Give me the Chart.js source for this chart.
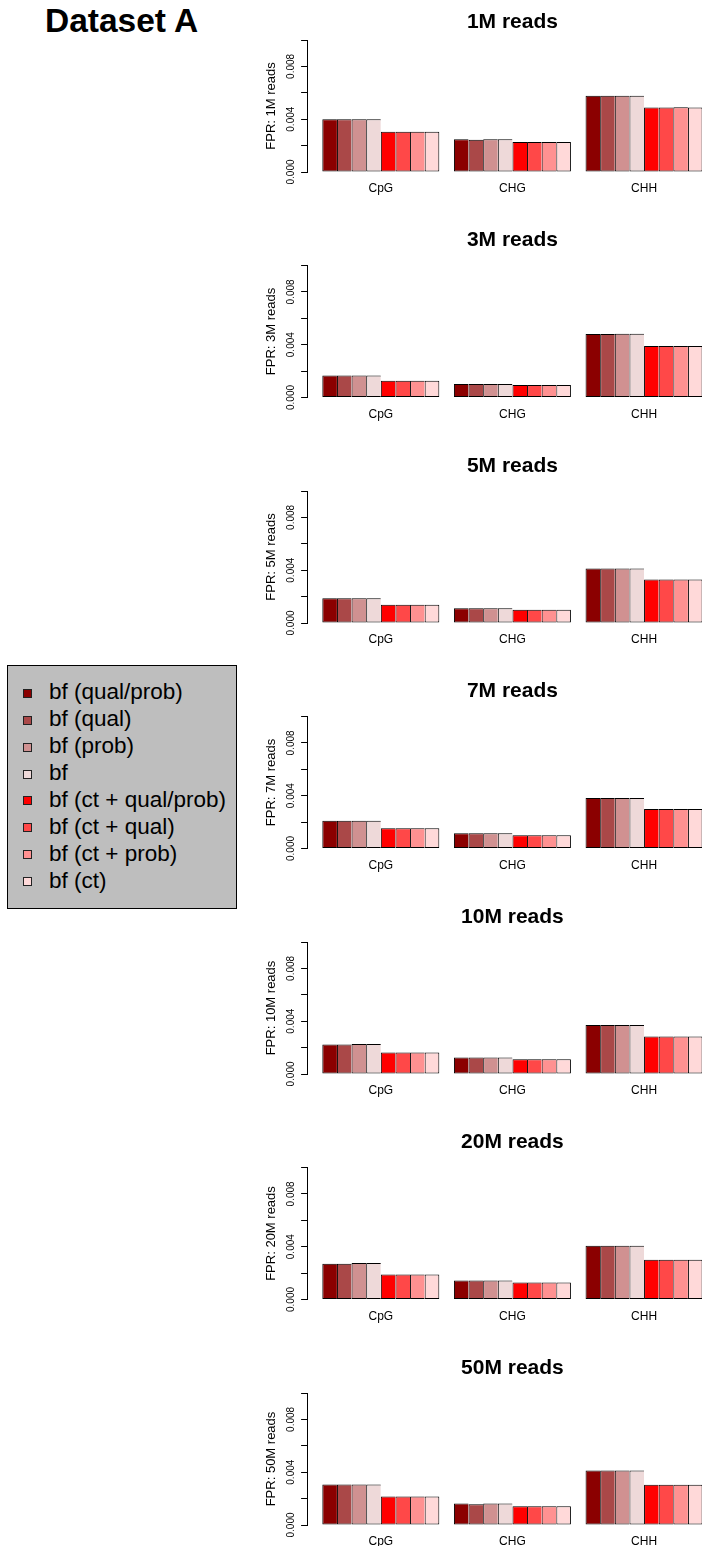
<!DOCTYPE html>
<html>
<head>
<meta charset="utf-8">
<title>Dataset A - FPR by read depth</title>
<script src="https://cdn.jsdelivr.net/npm/chart.js@4.4.1/dist/chart.umd.min.js"></script>
<style>
  html, body { margin: 0; padding: 0; background: #fff; overflow: hidden; }
  body { position: relative; width: 702px; height: 1546px; font-family: "Liberation Sans", Arial, Helvetica, sans-serif; color: #000; }
  #page-title { position: absolute; left: 45px; top: 4px; font-size: 33.5px; line-height: 33px; font-weight: bold; white-space: nowrap; }
  .panel { position: absolute; left: 0; }
  #legend { position: absolute; left: 7px; top: 665px; width: 230px; height: 244px; box-sizing: border-box; background: #bebebe; border: 1px solid #000; }
  .legend-item { position: absolute; left: 0; height: 0; }
  .legend-swatch { position: absolute; left: 15px; width: 9px; height: 9px; box-sizing: border-box; border: 1px solid #222; }
  .legend-label { position: absolute; left: 41px; font-size: 22.5px; line-height: 22px; white-space: nowrap; }
</style>
</head>
<body>
<div id="page-title">Dataset A</div>
<div id="legend"></div>
<div id="panels"></div>

<script>
// Categories and series
const categories = ["CpG", "CHG", "CHH"];
const seriesNames = [
    "bf (qual/prob)", "bf (qual)", "bf (prob)", "bf",
    "bf (ct + qual/prob)", "bf (ct + qual)", "bf (ct + prob)", "bf (ct)"
];
const seriesColors = [
    "#8B0000", "#AA4848", "#D09191", "#EED9D9",
    "#FF0000", "#FF4848", "#FF9191", "#FFD9D9"
];

// Panel titles and y-axis titles
const panelTitles = ["1M reads", "3M reads", "5M reads", "7M reads", "10M reads", "20M reads", "50M reads"];
const axisTitles = panelTitles.map(t => "FPR: " + t);

// y-axis ticks (only every other one gets a label)
const yTickValues = [0, 0.002, 0.004, 0.006, 0.008, 0.010];
const yTickLabels = ["0.000", "", "0.004", "", "0.008", ""];

// False positive rates per panel: [CpG, CHG, CHH], 8 series each
const fpr1M = [
    [0.00400, 0.00400, 0.00400, 0.00400, 0.00304, 0.00304, 0.00304, 0.00304],
    [0.00248, 0.00245, 0.00248, 0.00248, 0.00228, 0.00227, 0.00228, 0.00228],
    [0.00577, 0.00577, 0.00577, 0.00577, 0.00489, 0.00489, 0.00491, 0.00489]
];
const fpr3M = [
    [0.00167, 0.00167, 0.00167, 0.00167, 0.00126, 0.00126, 0.00126, 0.00126],
    [0.00103, 0.00103, 0.00103, 0.00103, 0.00094, 0.00094, 0.00094, 0.00094],
    [0.00481, 0.00481, 0.00483, 0.00483, 0.00390, 0.00390, 0.00390, 0.00390]
];
const fpr5M = [
    [0.00187, 0.00187, 0.00187, 0.00187, 0.00139, 0.00139, 0.00139, 0.00139],
    [0.00111, 0.00111, 0.00111, 0.00111, 0.00101, 0.00101, 0.00101, 0.00101],
    [0.00412, 0.00412, 0.00412, 0.00412, 0.00329, 0.00329, 0.00329, 0.00329]
];
const fpr7M = [
    [0.00211, 0.00211, 0.00211, 0.00211, 0.00153, 0.00153, 0.00153, 0.00153],
    [0.00115, 0.00115, 0.00115, 0.00115, 0.00100, 0.00100, 0.00100, 0.00100],
    [0.00383, 0.00383, 0.00383, 0.00383, 0.00300, 0.00300, 0.00300, 0.00300]
];
const fpr10M = [
    [0.00223, 0.00223, 0.00228, 0.00228, 0.00163, 0.00163, 0.00163, 0.00163],
    [0.00125, 0.00125, 0.00125, 0.00125, 0.00112, 0.00112, 0.00112, 0.00112],
    [0.00372, 0.00372, 0.00372, 0.00372, 0.00284, 0.00284, 0.00284, 0.00284]
];
const fpr20M = [
    [0.00271, 0.00271, 0.00276, 0.00276, 0.00190, 0.00190, 0.00190, 0.00190],
    [0.00144, 0.00144, 0.00144, 0.00144, 0.00129, 0.00129, 0.00129, 0.00129],
    [0.00408, 0.00408, 0.00408, 0.00408, 0.00301, 0.00301, 0.00301, 0.00301]
];
const fpr50M = [
    [0.00306, 0.00306, 0.00306, 0.00306, 0.00215, 0.00215, 0.00215, 0.00215],
    [0.00162, 0.00157, 0.00162, 0.00162, 0.00142, 0.00142, 0.00142, 0.00142],
    [0.00412, 0.00412, 0.00412, 0.00412, 0.00304, 0.00304, 0.00304, 0.00304]
];
const panelValues = [fpr1M, fpr3M, fpr5M, fpr7M, fpr10M, fpr20M, fpr50M];

// Layout, in bar widths: one empty bar before each group
const groupStart = [1, 10, 19];
const X_MIN = -0.04, X_MAX = 28.04;

const PANEL_STEP = 225.5;
const CANVAS_W = 720, CANVAS_H = 214;
const PLOT_LEFT = 307.1, PLOT_RIGHT = 717.76, PLOT_H = 132;
const LEFT_PAD = 250;
const FONT = '"Liberation Sans", Arial, Helvetica, sans-serif';

Chart.defaults.font.family = FONT;
Chart.defaults.color = "#000";

document.addEventListener("DOMContentLoaded", () => {
    buildLegend();
    panelValues.forEach((values, k) => buildPanel(values, k));
});

function buildLegend() {
    const box = document.getElementById("legend");
    seriesNames.forEach((name, i) => {
        const cy = 27.3 + 26.9 * i;
        const item = document.createElement("div");
        item.className = "legend-item";
        item.style.top = cy + "px";
        item.innerHTML = `
            <span class="legend-swatch" style="top:-4.5px;background:${seriesColors[i]}"></span>
            <span class="legend-label" style="top:-11.9px">${name}</span>`;
        box.appendChild(item);
    });
}

function buildPanel(values, k) {
    const axisTop = 40 + PANEL_STEP * k;
    const canvasTop = Math.floor(axisTop) - 40;
    const chartTop = axisTop - canvasTop;
    const chartBottom = chartTop + PLOT_H;
    const titleLine = 25.2;
    const titleGap = k === 0 ? 5.4 : 12.6;

    const canvas = document.createElement("canvas");
    canvas.className = "panel";
    canvas.width = CANVAS_W;
    canvas.height = CANVAS_H;
    canvas.style.top = canvasTop + "px";
    document.getElementById("panels").appendChild(canvas);

    const datasets = seriesNames.map((name, s) => ({
        label: name,
        data: categories.map((c, g) => ({ x: groupStart[g] + s + 0.5, y: values[g][s] })),
        backgroundColor: seriesColors[s],
        borderColor: "#000",
        borderWidth: s === seriesNames.length - 1 ? 1 : { left: 1, top: 1, bottom: 1, right: 0 },
        borderSkipped: false,
        grouped: false,
        barPercentage: 1,
        categoryPercentage: 1,
        inflateAmount: 0
    }));

    new Chart(canvas.getContext("2d"), {
        type: "bar",
        data: { datasets },
        options: {
            responsive: false,
            maintainAspectRatio: false,
            animation: false,
            devicePixelRatio: 1,
            events: [],
            layout: {
                padding: {
                    left: LEFT_PAD,
                    right: CANVAS_W - PLOT_RIGHT,
                    top: chartTop - titleLine - titleGap,
                    bottom: CANVAS_H - chartBottom - 30
                }
            },
            plugins: {
                legend: { display: false },
                tooltip: { enabled: false },
                title: {
                    display: true,
                    text: panelTitles[k],
                    fullSize: false,
                    color: "#000",
                    font: { size: 21, weight: "bold", lineHeight: 1.2 },
                    padding: { top: 0, bottom: titleGap }
                }
            },
            scales: {
                x: {
                    type: "linear",
                    min: X_MIN,
                    max: X_MAX,
                    bounds: "data",
                    offset: false,
                    grid: { display: false, offset: false },
                    border: { display: false },
                    afterBuildTicks: axis => {
                        axis.ticks = groupStart.map(v => ({ value: v + 4 }));
                    },
                    afterFit: axis => { axis.height = 30; },
                    ticks: {
                        autoSkip: false,
                        maxRotation: 0,
                        padding: 1.6,
                        font: { size: 12 },
                        color: "#000",
                        callback: (v, i) => categories[i]
                    }
                },
                y: {
                    type: "linear",
                    min: 0,
                    max: 0.010,
                    afterBuildTicks: axis => {
                        axis.ticks = yTickValues.map(v => ({ value: v }));
                    },
                    afterFit: axis => { axis.width = PLOT_LEFT - LEFT_PAD; },
                    grid: { display: true, drawOnChartArea: false, drawTicks: true, tickLength: 6, color: "#000", lineWidth: 1 },
                    border: { display: true, color: "#000", width: 1 },
                    ticks: {
                        autoSkip: false,
                        minRotation: 90,
                        maxRotation: 90,
                        crossAlign: "center",
                        padding: -3.1,
                        font: { size: 10 },
                        color: "#000",
                        callback: (v, i) => yTickLabels[i]
                    },
                    title: {
                        display: true,
                        text: axisTitles[k],
                        color: "#000",
                        font: { size: 13, lineHeight: 1.2 },
                        padding: { top: 13.2, bottom: 0 }
                    }
                }
            }
        }
    });
}
</script>
</body>
</html>
